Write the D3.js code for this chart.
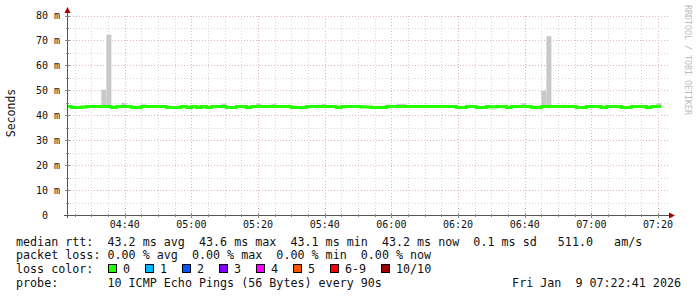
<!DOCTYPE html>
<html>
<head>
<meta charset="utf-8">
<script src="https://cdn.jsdelivr.net/npm/d3@7/dist/d3.min.js"></script>
<style>
    body { margin: 0; background: #fff; }
    svg text { font-family: "DejaVu Sans Mono", monospace; white-space: pre; }
</style>
</head>
<body>
<svg id="chart" width="697" height="297"></svg>
<script>
    // median rtt per 90s step (ms), first step ends 04:24:00
    var medianMs = [
        43.5, 43.1, 43.1, 43.3, 43.5, 43.5, 43.5, 43.5, 43.5, 43.1,
        43.5, 43.5, 43.5, 43.1, 43.1, 43.5, 43.5, 43.5, 43.5, 43.5,
        43.1, 43.1, 43.1, 43.5, 43.1, 43.5, 43.1, 43.5, 43.1, 43.5,
        43.5, 43.5, 43.1, 43.1, 43.5, 43.5, 43.1, 43.5, 43.5, 43.5,
        43.5, 43.5, 43.5, 43.5, 43.5, 43.1, 43.1, 43.1, 43.5, 43.5,
        43.5, 43.5, 43.5, 43.5, 43.1, 43.5, 43.5, 43.5, 43.5, 43.3,
        43.3, 43.1, 43.1, 43.1, 43.5, 43.5, 43.5, 43.5, 43.5, 43.5,
        43.5, 43.5, 43.5, 43.5, 43.5, 43.5, 43.5, 43.5, 43.1, 43.1,
        43.5, 43.5, 43.1, 43.1, 43.5, 43.3, 43.5, 43.5, 43.1, 43.5,
        43.5, 43.5, 43.5, 43.1, 43.1, 43.5, 43.5, 43.5, 43.5, 43.5,
        43.5, 43.5, 43.1, 43.1, 43.5, 43.5, 43.5, 43.1, 43.5, 43.5,
        43.5, 43.1, 43.1, 43.5, 43.5, 43.5, 43.1, 43.5, 43.5
    ];
    // smoke (ping spread) top per step, only where it rises above the median
    var smokeSpikes = [
        [7, 50.2], [8, 72.3], [11, 45.0], [15, 44.4], [31, 44.6],
        [38, 44.6], [41, 44.6], [51, 44.5], [64, 44.3], [66, 44.5],
        [67, 44.5], [80, 44.2], [91, 44.8], [95, 49.8], [96, 71.7],
        [99, 44.2], [101, 44.2], [118, 44.8]
    ];
    var smokeLowMs = 42.9;

    var yTicks = [0, 10, 20, 30, 40, 50, 60, 70, 80];
    var yLabels = ['0', '10 m', '20 m', '30 m', '40 m', '50 m', '60 m', '70 m', '80 m'];

    var legendRtt = 'median rtt:  43.2 ms avg  43.6 ms max  43.1 ms min  43.2 ms now  0.1 ms sd   511.0   am/s';
    var legendLoss = 'packet loss: 0.00 % avg  0.00 % max  0.00 % min  0.00 % now';
    var lossLabels = ['0', '1', '2', '3', '4', '5', '6-9', '10/10'];
    var lossColors = ['#26ff00', '#00b8ff', '#0059ff', '#7e00ff', '#ff00ff', '#ff5500', '#ff0000', '#a10000'];
    var probeText = 'probe:       10 ICMP Echo Pings (56 Bytes) every 90s';
    var stampText = 'Fri Jan  9 07:22:41 2026';

    var stepSec = 90;
    var tStart = new Date(2026, 0, 9, 4, 22, 41);
    var tEnd = new Date(2026, 0, 9, 7, 22, 41);
    var tFirstEnd = new Date(2026, 0, 9, 4, 24, 0);

    var svg = d3.select('#chart');
    var plotLeft = 67, plotRight = 667, plotTop = 15.5, plotBottom = 215;

    var x = d3.scaleTime().domain([tStart, tEnd]).range([plotLeft, plotRight]);
    var y = d3.scaleLinear().domain([0, 80]).range([plotBottom, plotTop]);

    function stepBounds(i) {
        var e = new Date(tFirstEnd.getTime() + i * stepSec * 1000);
        var s = new Date(e.getTime() - stepSec * 1000);
        return [Math.max(x(s), plotLeft), Math.min(x(e), plotRight)];
    }

    // grid
    var grid = svg.append('g');
    var minorX = d3.timeMinute.every(5).range(tStart, tEnd);
    var majorX = d3.timeMinute.every(20).range(tStart, tEnd);
    grid.selectAll('.gx').data(minorX).enter().append('line')
        .attr('x1', function(d) { return Math.round(x(d)) + 0.5; })
        .attr('x2', function(d) { return Math.round(x(d)) + 0.5; })
        .attr('y1', plotBottom).attr('y2', plotTop)
        .attr('stroke', function(d) { return d.getMinutes() % 20 === 0 ? '#e8b4b4' : '#d8d8d8'; })
        .attr('stroke-dasharray', '1,2');
    var minorY = d3.range(5, 81, 5);
    grid.selectAll('.gy').data(minorY).enter().append('line')
        .attr('x1', plotLeft).attr('x2', plotRight + 1)
        .attr('y1', function(d) { return Math.round(y(d)) + 0.5; })
        .attr('y2', function(d) { return Math.round(y(d)) + 0.5; })
        .attr('stroke', function(d) { return d % 10 === 0 ? '#e8b4b4' : '#d8d8d8'; })
        .attr('stroke-dasharray', '1,2');

    // smoke
    svg.append('g').selectAll('rect').data(smokeSpikes).enter().append('rect')
        .attr('x', function(d) { return stepBounds(d[0])[0]; })
        .attr('width', function(d) { var b = stepBounds(d[0]); return b[1] - b[0]; })
        .attr('y', function(d) { return y(d[1]); })
        .attr('height', function(d) { return y(smokeLowMs) - y(d[1]); })
        .attr('fill', '#c8c8c8');

    // median line as steps
    var pts = [];
    medianMs.forEach(function(v, i) {
        var b = stepBounds(i);
        pts.push([b[0], y(v)]);
        pts.push([b[1], y(v)]);
    });
    svg.append('path')
        .attr('d', d3.line()(pts))
        .attr('fill', 'none')
        .attr('stroke', '#26ff00')
        .attr('stroke-width', 3);

    // axes
    var ax = svg.append('g');
    ax.append('line').attr('x1', plotLeft + 0.5).attr('x2', plotLeft + 0.5).attr('y1', plotBottom + 3).attr('y2', 10)
        .attr('stroke', '#555');
    ax.append('line').attr('x1', plotLeft - 3).attr('x2', 670).attr('y1', plotBottom + 0.5).attr('y2', plotBottom + 0.5)
        .attr('stroke', '#555');
    ax.append('path').attr('d', 'M' + (plotLeft - 2.5) + ',13 L' + (plotLeft + 0.5) + ',7 L' + (plotLeft + 3.5) + ',13 Z').attr('fill', '#a00000');
    ax.append('path').attr('d', 'M669,' + (plotBottom - 2.5) + ' L675,' + (plotBottom + 0.5) + ' L669,' + (plotBottom + 3.5) + ' Z').attr('fill', '#a00000');

    ax.selectAll('.tx').data(minorX).enter().append('line')
        .attr('x1', function(d) { return Math.round(x(d)) + 0.5; })
        .attr('x2', function(d) { return Math.round(x(d)) + 0.5; })
        .attr('y1', function(d) { return d.getMinutes() % 20 === 0 ? plotBottom - 2 : plotBottom - 1; })
        .attr('y2', function(d) { return d.getMinutes() % 20 === 0 ? plotBottom + 3 : plotBottom + 2; })
        .attr('stroke', '#888');
    ax.selectAll('.ty').data(minorY).enter().append('line')
        .attr('x1', function(d) { return d % 10 === 0 ? plotLeft - 2 : plotLeft - 1; })
        .attr('x2', function(d) { return d % 10 === 0 ? plotLeft + 3 : plotLeft + 2; })
        .attr('y1', function(d) { return Math.round(y(d)) + 0.5; })
        .attr('y2', function(d) { return Math.round(y(d)) + 0.5; })
        .attr('stroke', '#888');

    var fmt = d3.timeFormat('%H:%M');
    ax.selectAll('.lx').data(majorX).enter().append('text')
        .attr('x', function(d) { return x(d); })
        .attr('y', 228)
        .attr('text-anchor', 'middle')
        .style('font-size', '10px')
        .attr('fill', '#111')
        .text(fmt);
    ax.selectAll('.ly').data(yTicks).enter().append('text')
        .attr('x', function(d) { return d === 0 ? 48 : 60; })
        .attr('y', function(d) { return y(d) + 3.5; })
        .attr('text-anchor', 'end')
        .style('font-size', '10px')
        .attr('fill', '#111')
        .text(function(d, i) { return yLabels[i]; });

    svg.append('text')
        .attr('transform', 'translate(15,113) rotate(-90)')
        .attr('text-anchor', 'middle')
        .style('font-size', '11.5px')
        .attr('fill', '#111')
        .text('Seconds');

    svg.append('text')
        .attr('transform', 'translate(685,5) rotate(90)')
        .style('font-size', '8.3px')
        .attr('fill', '#bbb')
        .text('RRDTOOL / TOBI OETIKER');

    // legend
    var lg = svg.append('g').style('font-size', '11.7px').attr('fill', '#111');
    lg.append('text').attr('x', 16).attr('y', 245.5).text(legendRtt);
    lg.append('text').attr('x', 16).attr('y', 259).text(legendLoss);
    lg.append('text').attr('x', 16).attr('y', 273).text('loss color:');
    lg.append('text').attr('x', 16).attr('y', 287).text(probeText);
    lg.append('text').attr('x', 681).attr('y', 287).attr('text-anchor', 'end').text(stampText);

    var lx = 108;
    lossLabels.forEach(function(lbl, i) {
        lg.append('rect')
            .attr('x', lx + 0.5).attr('y', 264.5).attr('width', 8).attr('height', 8)
            .attr('fill', lossColors[i]).attr('stroke', '#000');
        lg.append('text').attr('x', lx + 15).attr('y', 273).text(lbl);
        lx += 22 + lbl.length * 7 + 8;
    });
</script>
</body>
</html>
